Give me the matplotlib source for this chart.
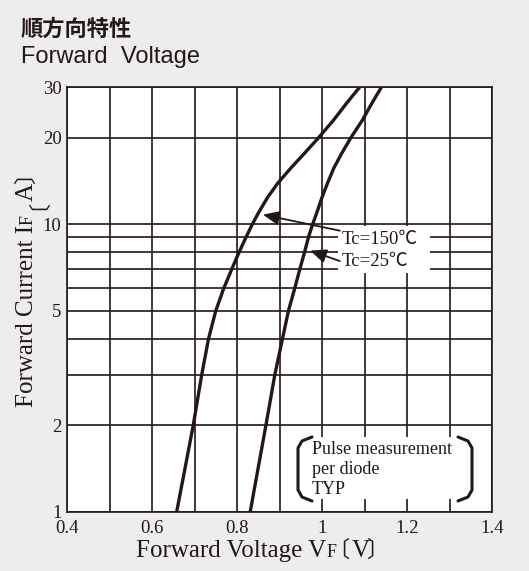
import numpy as np
import matplotlib
matplotlib.use("Agg")
import matplotlib.pyplot as plt
from matplotlib.patches import Rectangle
from matplotlib.lines import Line2D

# figure size in pixels
W, H = 529, 571
BG = "#ededed"
INK = "#231815"
SERIF = ["Liberation Serif", "Noto Sans CJK JP", "DejaVu Serif"]
CJK = ["Noto Sans CJK JP", "DejaVu Sans"]

# data (forward current in A, forward voltage in V)
current_150 = [1, 2, 3, 4, 5, 6, 7, 8, 9, 10, 11, 12.4, 13.9, 15.7, 17.6, 20, 23, 26.6, 30]
vf_150 = [0.658, 0.697, 0.717, 0.733, 0.750, 0.769, 0.788, 0.805, 0.821, 0.836, 0.851,
          0.872, 0.896, 0.927, 0.958, 0.992, 1.027, 1.060, 1.089]
current_25 = [1, 2, 3, 4, 5, 6, 7, 8, 9, 10, 11, 12.4, 13.9, 15.7, 17.6, 20, 23, 26.6, 30]
vf_25 = [0.831, 0.868, 0.889, 0.907, 0.921, 0.936, 0.948, 0.959, 0.968, 0.978, 0.988,
         1.000, 1.013, 1.028, 1.046, 1.068, 1.095, 1.119, 1.140]

x_ticks = [0.4, 0.6, 0.8, 1.0, 1.2, 1.4]
x_labels = ["0.4", "0.6", "0.8", "1", "1.2", "1.4"]
x_grid_minor = [0.5, 0.7, 0.9, 1.1, 1.3]
y_ticks = [1, 2, 5, 10, 20, 30]
y_labels = ["1", "2", "5", "10", "20", "30"]
y_grid_minor = [3, 4, 6, 7, 8, 9]
note_lines = ["Pulse measurement", "per diode", "TYP"]


def fx(px):
    return px / W


def fy(py):
    return 1 - py / H


fig = plt.figure(figsize=(W / 100, H / 100), dpi=100, facecolor=BG)
ax = fig.add_axes([fx(67), fy(512), 425 / W, 425 / H])
ax.set_facecolor("white")

ax.plot(vf_150, current_150, color=INK, lw=2.4, zorder=3)
ax.plot(vf_25, current_25, color=INK, lw=2.4, zorder=3)

ax.set_yscale("log")
ax.set_xlim(0.4, 1.4)
ax.set_ylim(1, 30)
ax.set_xticks(x_ticks)
ax.set_xticks(x_grid_minor, minor=True)
ax.set_xticklabels(x_labels)
ax.set_yticks(y_ticks)
ax.set_yticks(y_grid_minor, minor=True)
ax.set_yticklabels(y_labels)
ax.yaxis.set_minor_formatter(matplotlib.ticker.NullFormatter())
ax.tick_params(which="both", length=0)
ax.tick_params(axis="x", pad=6)
ax.tick_params(axis="y", pad=4)
for lab in ax.get_xticklabels() + ax.get_yticklabels():
    lab.set_family(SERIF)
    lab.set_fontsize(13.5)
    lab.set_color(INK)
ax.set_axisbelow(True)
ax.grid(True, which="both", color=INK, lw=1.2)
for sp in ax.spines.values():
    sp.set_color(INK)
    sp.set_linewidth(1.2)

# white boxes that break the grid behind the labels
ax.add_patch(Rectangle((fx(338), fy(273)), 92 / W, 47 / H, transform=fig.transFigure,
                       facecolor="white", edgecolor="none", zorder=2.5))
ax.add_patch(Rectangle((fx(300), fy(499)), 170 / W, 62 / H, transform=fig.transFigure,
                       facecolor="white", edgecolor="none", zorder=2.5))

# curve labels with arrows
ax.text(fx(342), fy(239), "Tc=150℃", transform=fig.transFigure, family=SERIF,
        fontsize=13.5, va="center", ha="left", color=INK, zorder=5)
ax.text(fx(342), fy(261), "Tc=25℃", transform=fig.transFigure, family=SERIF,
        fontsize=13.5, va="center", ha="left", color=INK, zorder=5)
arrow = dict(arrowstyle="-|>,head_length=0.7,head_width=0.3", color=INK,
             lw=1.3, shrinkA=0, shrinkB=0, mutation_scale=14)
ax.annotate("", xy=(0.861, 10.8), xytext=(1.042, 9.5), arrowprops=arrow, zorder=5)
ax.annotate("", xy=(0.972, 8.1), xytext=(1.042, 7.45), arrowprops=arrow, zorder=5)

# measurement note with brackets
for i, s in enumerate(note_lines):
    ax.text(fx(312), fy(450 + 20 * i), s, transform=fig.transFigure, family=SERIF,
            fontsize=13, va="center", ha="left", color=INK, zorder=5)
lb_x = [312, 302, 298, 298, 302, 312]
rb_x = [458, 468, 472, 472, 468, 458]
br_y = [437, 441, 448, 490, 497, 501]
for bx in (lb_x, rb_x):
    ax.add_line(Line2D([fx(v) for v in bx], [fy(v) for v in br_y], transform=fig.transFigure,
                       color=INK, lw=2.2, clip_on=False, zorder=5,
                       solid_joinstyle="round", solid_capstyle="round"))


def draw_pieces(pieces, x, y, rotation=0):
    # lay text pieces one after another, pixel coords from the top-left
    renderer = fig.canvas.get_renderer()
    pos = x if rotation == 0 else y
    for s, size, fam, gap in pieces:
        probe = fig.text(0, 0, s, family=fam, fontsize=size)
        width = probe.get_window_extent(renderer).width
        probe.remove()
        if rotation == 0:
            pos += gap
            fig.text(fx(pos), fy(y), s, family=fam, fontsize=size, ha="left",
                     va="baseline", color=INK)
            pos += width
        else:
            pos -= gap
            fig.text(fx(x), fy(pos), s, family=fam, fontsize=size, ha="left",
                     va="baseline", rotation=90, rotation_mode="anchor", color=INK)
            pos -= width


draw_pieces([("Forward Voltage V", 18, SERIF, 0), ("F", 13, SERIF, 0),
             ("〔", 16, CJK, -9), ("V", 18, SERIF, 2), ("〕", 16, CJK, -3)], 136, 557)
draw_pieces([("Forward Current I", 18, SERIF, 0), ("F", 13, SERIF, 0),
             ("〔", 16, CJK, 5), ("A", 18, SERIF, -13), ("〕", 16, CJK, -1)], 33, 407,
            rotation=90)

# title
fig.text(fx(21), fy(18), "順方向特性", family=CJK, fontsize=16, weight="bold",
         ha="left", va="top", color=INK)
fig.text(fx(21), fy(63), "Forward  Voltage", family=["Liberation Sans", "DejaVu Sans"],
         fontsize=17, ha="left", va="baseline", color=INK)

fig.savefig("out.png", dpi=100, facecolor=BG)
